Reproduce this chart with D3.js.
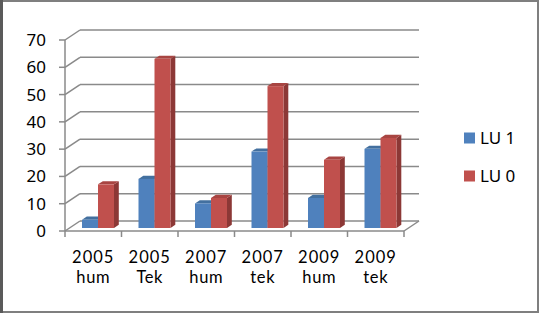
<!DOCTYPE html>
<html><head><meta charset="utf-8">
<script src="https://cdn.jsdelivr.net/npm/d3@7"></script>
<style>html,body{margin:0;padding:0;background:#fff;}svg{display:block;}</style>
</head><body>
<script>
const categories = [["2005","hum"],["2005","Tek"],["2007","hum"],["2007","tek"],["2009","hum"],["2009","tek"]];
const seriesNames = ["LU 1","LU 0"];
const lu1 = [3, 18, 9, 28, 11, 29];
const lu0 = [16, 62, 11, 52, 25, 33];
const yTicks = [0,10,20,30,40,50,60,70];
const colors = {front:["#4F81BD","#C0504D"], side:["#385D8A","#8C3836"], top:["#43709F","#A84542"]};

const W=539,H=313;
const svg=d3.select("body").append("svg").attr("width",W).attr("height",H);
svg.append("rect").attr("width",W).attr("height",H).attr("fill","#fff");

const font="'Noto Sans', 'Open Sans', sans-serif";
const catFont="Lato, 'Noto Sans', sans-serif";
const DX=15, DY=-10; // depth vector
const catIdx=categories.map((d,i)=>i);
const x0=d3.scaleBand().domain(catIdx).range([65,404]);
const x1=d3.scaleBand().domain([0,1]).range([12.5,44.5]);
const y=d3.scaleLinear().domain([0,70]).range([231,40]);
const grid="#8a8a8a";

const g=svg.append("g");
yTicks.forEach(t=>{
  g.append("line").attr("x1",65+DX).attr("x2",404+DX).attr("y1",y(t)+DY).attr("y2",y(t)+DY)
   .attr("stroke",grid).attr("stroke-width",1.5);
  g.append("line").attr("x1",65).attr("x2",65+DX).attr("y1",y(t)).attr("y2",y(t)+DY)
   .attr("stroke",grid).attr("stroke-width",1.5);
  g.append("line").attr("x1",59).attr("x2",65).attr("y1",y(t)).attr("y2",y(t))
   .attr("stroke",grid).attr("stroke-width",1.5);
  g.append("text").attr("x",46).attr("y",y(t)).attr("dy","0.35em").attr("text-anchor","end")
   .attr("font-family",font).attr("font-size",17).attr("fill","#000").text(t);
});
g.append("line").attr("x1",404).attr("x2",404+DX).attr("y1",y(0)).attr("y2",y(0)+DY).attr("stroke",grid).attr("stroke-width",1.5);
g.append("line").attr("x1",65).attr("x2",404).attr("y1",y(0)).attr("y2",y(0)).attr("stroke",grid).attr("stroke-width",1.5);
g.append("line").attr("x1",65).attr("x2",65).attr("y1",y(70)).attr("y2",y(0)).attr("stroke",grid).attr("stroke-width",1.5);
d3.range(categories.length+1).forEach(i=>{
  const xx=65+i*x0.step();
  g.append("line").attr("x1",xx).attr("x2",xx).attr("y1",y(0)).attr("y2",y(0)+6).attr("stroke",grid).attr("stroke-width",1.5);
});

const f0=0.3,f1=0.62;
const bw=x1.bandwidth();
const values=[lu1,lu0];
catIdx.forEach(c=>{
  [0,1].forEach(s=>{
    const v=values[s][c];
    const L=x0(c)+x1(s)+DX*f0, R=L+bw;
    const T=y(v)+DY*f0, B=y(0)+DY*f0;
    const ddx=DX*(f1-f0), ddy=DY*(f1-f0);
    g.append("path").attr("d",`M${R},${T}L${R+ddx},${T+ddy}L${R+ddx},${B+ddy}L${R},${B}Z`).attr("fill",colors.side[s]);
    g.append("path").attr("d",`M${L},${T}L${L+ddx},${T+ddy}L${R+ddx},${T+ddy}L${R},${T}Z`).attr("fill",colors.top[s]);
    g.append("rect").attr("x",L).attr("y",T).attr("width",bw).attr("height",B-T).attr("fill",colors.front[s]);
  });
});

categories.forEach((lab,i)=>{
  const cx=x0(i)+x0.bandwidth()/2;
  g.append("text").attr("x",cx).attr("y",263).attr("text-anchor","middle").attr("font-family",catFont)
   .attr("font-size",16.5).attr("letter-spacing",1).attr("fill","#000").text(lab[0]);
  g.append("text").attr("x",cx).attr("y",283).attr("text-anchor","middle").attr("font-family",catFont)
   .attr("font-size",16.5).attr("letter-spacing",0.6).attr("fill","#000").text(lab[1]);
});

seriesNames.forEach((n,i)=>{
  const yy=138+i*38;
  g.append("rect").attr("x",464).attr("y",yy-5.5).attr("width",11).attr("height",11).attr("fill",colors.front[i]);
  g.append("text").attr("x",480).attr("y",yy).attr("dy","0.35em").attr("font-family",font).attr("font-size",17).attr("fill","#000").text(n);
});

svg.append("rect").attr("x",1).attr("y",1).attr("width",W-2).attr("height",H-2).attr("fill","none").attr("stroke","#7f7f7f").attr("stroke-width",2);
svg.append("line").attr("x1",1.5).attr("x2",1.5).attr("y1",0).attr("y2",H).attr("stroke","#5a5a5a").attr("stroke-width",3);
</script>
</body></html>
